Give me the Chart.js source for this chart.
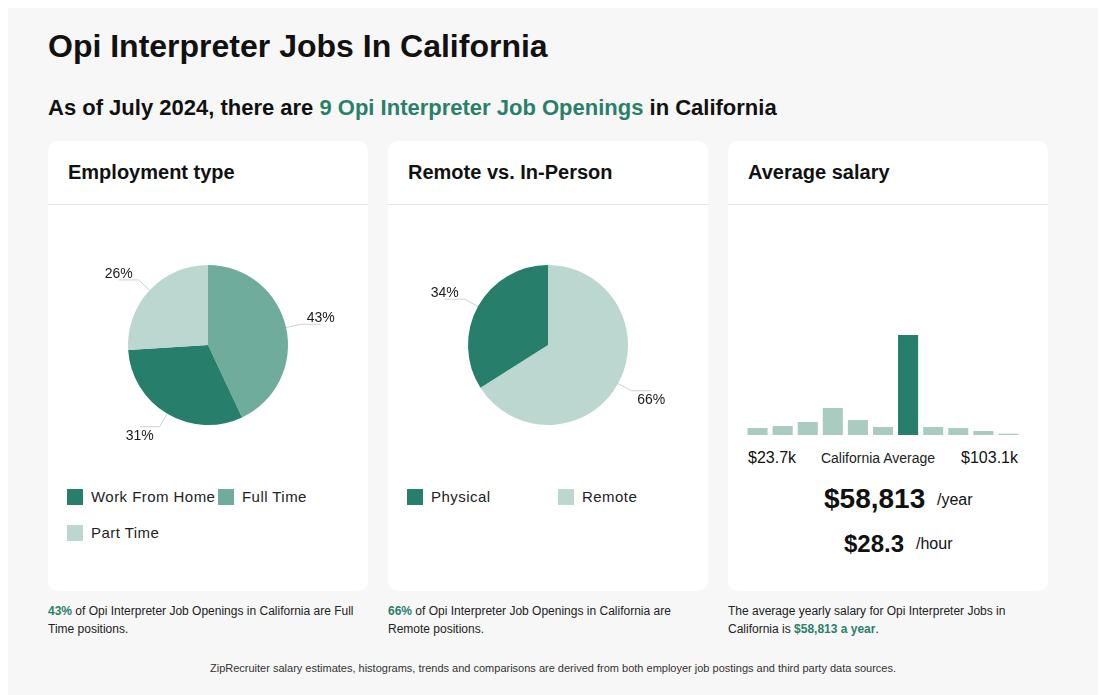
<!DOCTYPE html>
<html>
<head>
<meta charset="utf-8">
<script src="https://cdn.jsdelivr.net/npm/chart.js@4.4.1/dist/chart.umd.min.js"></script>
<style>
  body { margin: 0; background: #fff; font-family: "Liberation Sans", Arial, sans-serif; color: #111; }
  #panel { position: absolute; left: 8px; top: 8px; width: 1090px; height: 700px; background: #f7f7f7; }
  .abs { position: absolute; white-space: nowrap; line-height: 1; }
  h1, h2 { margin: 0; font-weight: bold; }
  .green { color: #2a7f6a; }
  .card { position: absolute; top: 141px; width: 320px; height: 450px; background: #fff; border-radius: 10px; }
  .card .sep { position: absolute; left: 0; top: 63px; width: 320px; height: 1px; background: #e3e3e3; }
  .card .head { left: 20px; top: 21px; font-size: 20px; font-weight: bold; }
  .pie-wrap { position: absolute; left: 0; top: 84px; width: 320px; height: 240px; }
  .leg { position: absolute; font-size: 15px; letter-spacing: 0.45px; line-height: 16px; color: #222; }
  .leg i { position: absolute; left: 0; top: 0; width: 16px; height: 16px; }
  .leg span { position: absolute; left: 24px; top: 0; white-space: nowrap; }
  .note { position: absolute; top: 602px; width: 320px; font-size: 12px; line-height: 18px; color: #222; }
  .note b { color: #2a7f6a; }
  .hist-wrap { position: absolute; left: 17px; top: 194px; width: 276px; height: 100px; }
</style>
</head>
<body>
<div id="panel"></div>
<h1 class="abs" style="left:48px; top:30px; font-size:32px;">Opi Interpreter Jobs In California</h1>
<h2 class="abs" style="left:48px; top:97px; font-size:22px;">As of July 2024, there are <span class="green">9 Opi Interpreter Job Openings</span> in California</h2>

<div class="card" style="left:48px;">
  <div class="head abs">Employment type</div>
  <div class="sep"></div>
  <div class="pie-wrap"><canvas id="typeChart"></canvas></div>
  <div class="leg" style="left:19px; top:348px;"><i style="background:#277f6b"></i><span>Work From Home</span></div>
  <div class="leg" style="left:170px; top:348px;"><i style="background:#6fac9c"></i><span>Full Time</span></div>
  <div class="leg" style="left:19px; top:384px;"><i style="background:#bbd7cf"></i><span>Part Time</span></div>
</div>

<div class="card" style="left:388px;">
  <div class="head abs">Remote vs. In-Person</div>
  <div class="sep"></div>
  <div class="pie-wrap"><canvas id="remoteChart"></canvas></div>
  <div class="leg" style="left:19px; top:348px;"><i style="background:#277f6b"></i><span>Physical</span></div>
  <div class="leg" style="left:170px; top:348px;"><i style="background:#bbd7cf"></i><span>Remote</span></div>
</div>

<div class="card" style="left:728px;">
  <div class="head abs">Average salary</div>
  <div class="sep"></div>
  <div class="hist-wrap"><canvas id="salaryChart"></canvas></div>
  <div class="abs" style="left:20px; top:309px; font-size:16px;">$23.7k</div>
  <div class="abs" style="left:20px; width:260px; text-align:center; top:310px; font-size:14px; color:#222;">California Average</div>
  <div class="abs" style="right:30px; top:309px; font-size:16px;">$103.1k</div>
  <div class="abs" style="left:96px; top:344px; font-size:28px; font-weight:bold;">$58,813</div>
  <div class="abs" style="left:209px; top:351px; font-size:16px;">/year</div>
  <div class="abs" style="left:116px; top:391px; font-size:24px; font-weight:bold;">$28.3</div>
  <div class="abs" style="left:188px; top:395px; font-size:16px;">/hour</div>
</div>

<div class="note" style="left:48px;"><b>43%</b> of Opi Interpreter Job Openings in California are Full Time positions.</div>
<div class="note" style="left:388px;"><b>66%</b> of Opi Interpreter Job Openings in California are Remote positions.</div>
<div class="note" style="left:728px;">The average yearly salary for Opi Interpreter Jobs in California is <b>$58,813 a year</b>.</div>
<div class="abs" style="left:8px; width:1090px; text-align:center; top:663px; font-size:11px; color:#333;">ZipRecruiter salary estimates, histograms, trends and comparisons are derived from both employer job postings and third party data sources.</div>

<script>
// employment type, in drawing order (clockwise from top)
const typeLabels = ['Full Time', 'Work From Home', 'Part Time'];
const typeValues = [43, 31, 26];
const typeColors = ['#6fac9c', '#277f6b', '#bbd7cf'];

const remoteLabels = ['Remote', 'Physical'];
const remoteValues = [66, 34];
const remoteColors = ['#bbd7cf', '#277f6b'];

// salary histogram bins, $23.7k .. $103.1k
const salaryBins = ['b1', 'b2', 'b3', 'b4', 'b5', 'b6', 'b7', 'b8', 'b9', 'b10', 'b11'];
const salaryCounts = [7, 9, 13, 27, 15, 8, 100, 8, 7, 4, 1.3];
const highlightBin = 6;

// percent labels with little elbow lines
const leaderLines = {
    id: 'leaderLines',
    afterDatasetsDraw(chart) {
        const ctx = chart.ctx;
        const values = chart.data.datasets[0].data;
        chart.getDatasetMeta(0).data.forEach((arc, i) => {
            const mid = (arc.startAngle + arc.endAngle) / 2;
            const r = arc.outerRadius;
            const cos = Math.cos(mid), sin = Math.sin(mid);
            const x0 = arc.x + cos * r, y0 = arc.y + sin * r;
            const x1 = arc.x + cos * (r + 15), y1 = arc.y + sin * (r + 15);
            const x2 = x1 + (cos >= 0 ? 20 : -20);

            ctx.save();
            ctx.strokeStyle = '#d0d0d0';
            ctx.lineWidth = 1;
            ctx.beginPath();
            ctx.moveTo(x0, y0);
            ctx.lineTo(x1, y1);
            ctx.lineTo(x2, y1);
            ctx.stroke();

            ctx.fillStyle = '#1a1a1a';
            ctx.font = '14px "Liberation Sans", Arial, sans-serif';
            ctx.textAlign = 'center';
            ctx.textBaseline = 'alphabetic';
            ctx.fillText(values[i] + '%', x2, sin < 0 ? y1 - 2 : y1 + 13);
            ctx.restore();
        });
    }
};

function pieChart(id, labels, values, colors) {
    return new Chart(document.getElementById(id), {
        type: 'pie',
        data: {
            labels: labels,
            datasets: [{ data: values, backgroundColor: colors, borderWidth: 0, hoverOffset: 0 }]
        },
        options: {
            responsive: true,
            maintainAspectRatio: false,
            animation: false,
            radius: 80,
            plugins: { legend: { display: false }, tooltip: { enabled: false } }
        },
        plugins: [leaderLines]
    });
}

pieChart('typeChart', typeLabels, typeValues, typeColors);
pieChart('remoteChart', remoteLabels, remoteValues, remoteColors);

new Chart(document.getElementById('salaryChart'), {
    type: 'bar',
    data: {
        labels: salaryBins,
        datasets: [{
            data: salaryCounts,
            backgroundColor: salaryCounts.map((v, i) => i === highlightBin ? '#277f6b' : '#a9cbc0'),
            borderWidth: 0,
            categoryPercentage: 1,
            barPercentage: 0.8
        }]
    },
    options: {
        responsive: true,
        maintainAspectRatio: false,
        animation: false,
        plugins: { legend: { display: false }, tooltip: { enabled: false } },
        scales: {
            x: { display: false },
            y: { display: false, min: 0, max: 100 }
        }
    }
});
</script>
</body>
</html>
